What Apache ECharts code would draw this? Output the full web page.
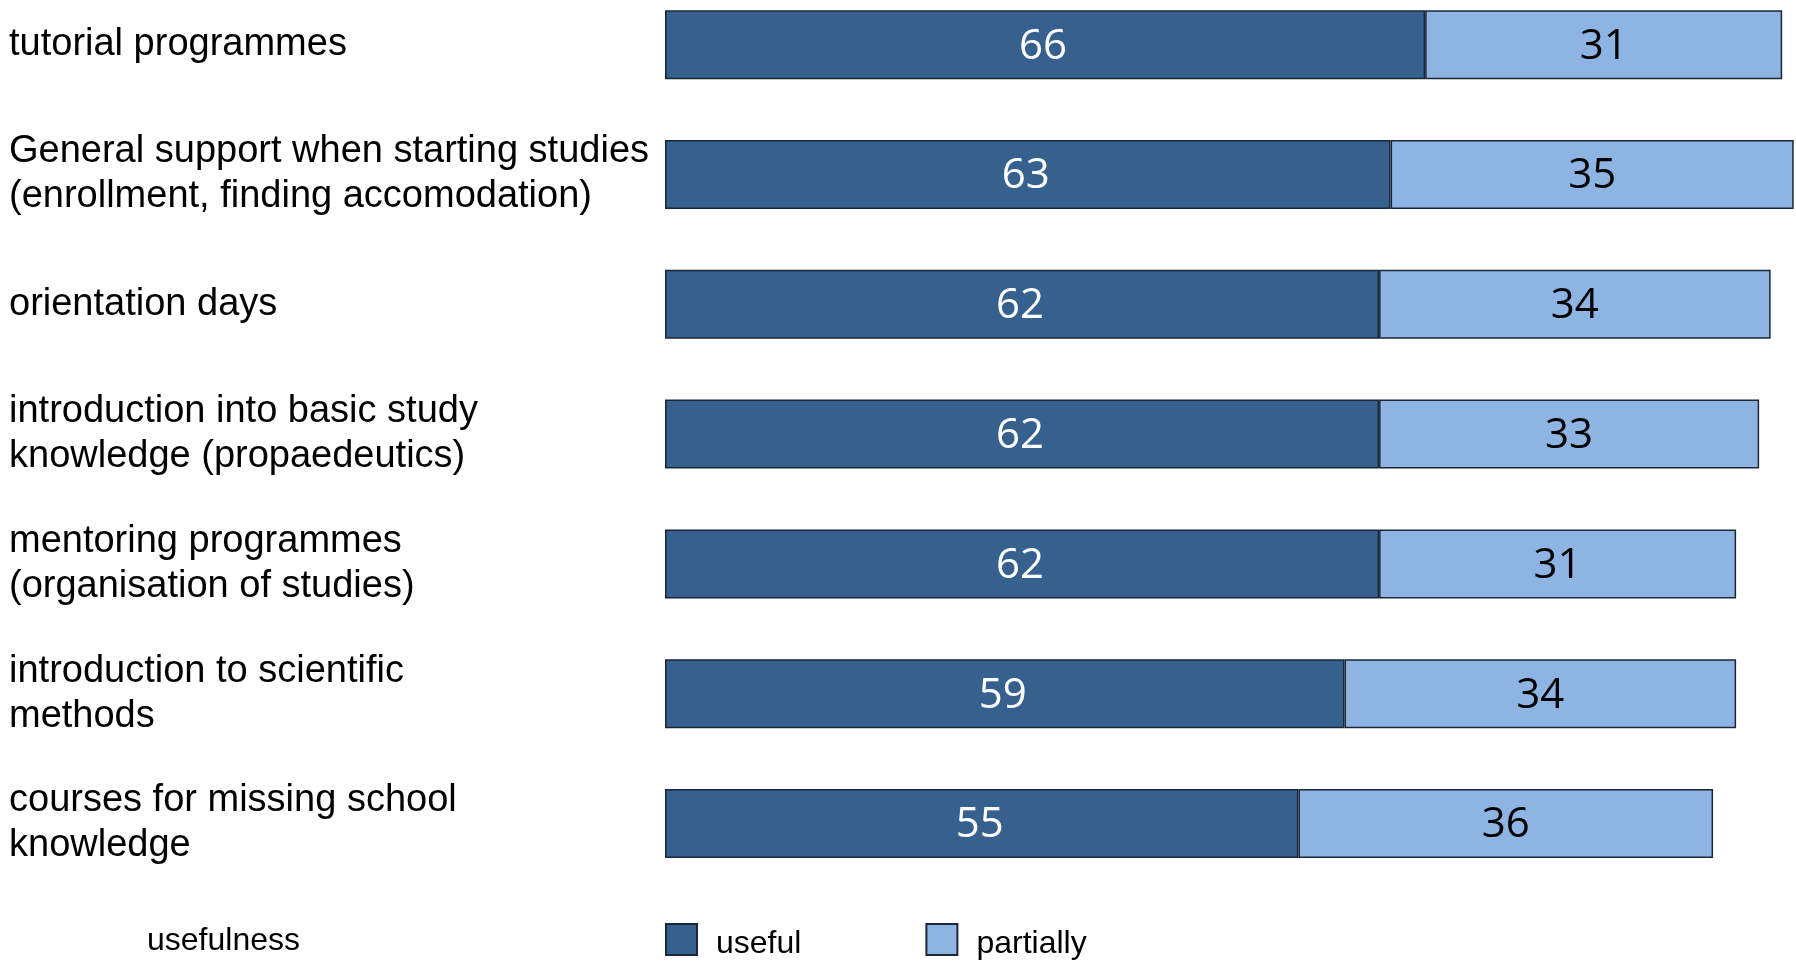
<!DOCTYPE html>
<html>
<head>
<meta charset="utf-8">
<script src="https://cdn.jsdelivr.net/npm/echarts@6/dist/echarts.min.js"></script>
<style>
html,body{margin:0;padding:0;background:#fff;}
#chart{width:1796px;height:966px;}
</style>
</head>
<body>
<div id="chart"></div>
<script>
const categories = [
  "tutorial programmes",
  "General support when starting studies\n(enrollment, finding accomodation)",
  "orientation days",
  "introduction into basic study\nknowledge (propaedeutics)",
  "mentoring programmes\n(organisation of studies)",
  "introduction to scientific\nmethods",
  "courses for missing school\nknowledge"
];
const seriesNames = ["useful", "partially"];
const usefulValues = [66, 63, 62, 62, 62, 59, 55];
const partiallyValues = [31, 35, 34, 33, 31, 34, 36];
const legendTitle = "usefulness";

const chart = echarts.init(document.getElementById('chart'), null, {renderer: 'canvas'});
const labelFont = "'Open Sans', 'DejaVu Sans', sans-serif";
const textFont = "'Liberation Sans', Arial, sans-serif";
const border = {borderColor: '#1b2736', borderWidth: 1.5};

chart.setOption({
  backgroundColor: '#ffffff',
  animation: false,
  grid: {left: 665, top: 44.7, right: 0, height: 778.8, containLabel: false},
  xAxis: {type: 'value', min: 0, max: 98.2, show: false},
  yAxis: {
    type: 'category', data: categories, inverse: true, boundaryGap: false,
    axisLine: {show: false}, axisTick: {show: false}, splitLine: {show: false},
    axisLabel: {
      align: 'left', margin: 656, color: '#000',
      fontFamily: textFont, fontSize: 38, lineHeight: 45
    }
  },
  title: {
    text: legendTitle, left: 147, top: 925, padding: 0,
    textStyle: {fontFamily: textFont, fontSize: 32, fontWeight: 'normal', color: '#000'}
  },
  legend: {
    data: seriesNames, left: 665, top: 923, padding: 0,
    itemWidth: 31, itemHeight: 31, itemGap: 124,
    icon: 'rect',
    formatter: '{a|{name}}',
    textStyle: {
      fontFamily: textFont, fontSize: 32, color: '#000', padding: [0, 0, 0, 14],
      rich: {a: {fontFamily: textFont, fontSize: 32, color: '#000', padding: [9, 0, 0, 0]}}
    }
  },
  series: [
    {
      name: seriesNames[0], type: 'bar', stack: 'total', data: usefulValues,
      barWidth: 69, clip: false,
      itemStyle: Object.assign({color: '#36618f'}, border),
      label: {show: true, position: 'inside', offset: [-2, 2], color: '#ffffff', fontFamily: labelFont, fontSize: 42}
    },
    {
      name: seriesNames[1], type: 'bar', stack: 'total', data: partiallyValues,
      barWidth: 69, clip: false,
      itemStyle: Object.assign({color: '#8eb4e3'}, border),
      label: {show: true, position: 'inside', offset: [0, 2], color: '#000000', fontFamily: labelFont, fontSize: 42}
    }
  ]
});
</script>
</body>
</html>
